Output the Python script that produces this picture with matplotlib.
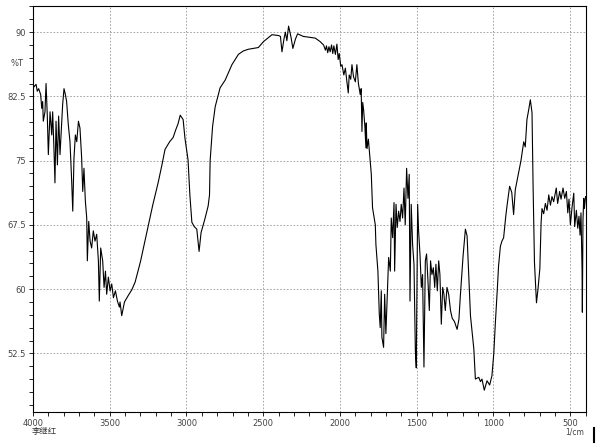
import numpy as np
import matplotlib.pyplot as plt
from matplotlib.ticker import MultipleLocator, FixedLocator
from matplotlib.lines import Line2D

# 波数 (1/cm)
wavenumber = [
    4000, 3994, 3980, 3972, 3963, 3950, 3943, 3937, 3933, 3922, 3915, 3907,
    3900, 3889, 3878, 3872, 3863, 3857, 3850, 3841, 3833, 3824, 3815, 3807,
    3798, 3789, 3781, 3770, 3759, 3748, 3741, 3733, 3724, 3715, 3704, 3694,
    3683, 3676, 3668, 3659, 3650, 3646, 3637, 3628, 3618, 3607, 3596, 3585,
    3574, 3568, 3559, 3546, 3537, 3528, 3520, 3509, 3498, 3487, 3476, 3463,
    3450, 3437, 3433, 3422, 3404, 3378, 3357, 3335, 3300, 3250, 3220, 3185,
    3160, 3140, 3110, 3087, 3070, 3055, 3041, 3030, 3022, 3010, 2990, 2978,
    2965, 2950, 2933, 2918, 2905, 2880, 2859, 2850, 2846, 2830, 2813, 2781,
    2748, 2704, 2662, 2630, 2597, 2532, 2498, 2443, 2400, 2388, 2378, 2365,
    2356, 2346, 2335, 2320, 2307, 2290, 2276, 2239, 2200, 2161, 2130, 2107,
    2095, 2088, 2080, 2072, 2064, 2055, 2047, 2040, 2030, 2020, 2012, 2005,
    1995, 1987, 1975, 1965, 1955, 1946, 1940, 1930, 1922, 1912, 1900, 1890,
    1880, 1868, 1862, 1857, 1852, 1846, 1838, 1831, 1829, 1824, 1815, 1806,
    1796, 1788, 1770, 1766, 1753, 1744, 1738, 1731, 1727, 1716, 1709, 1701,
    1692, 1683, 1672, 1666, 1657, 1648, 1644, 1635, 1627, 1618, 1609, 1601,
    1592, 1583, 1575, 1566, 1557, 1549, 1544, 1536, 1527, 1518, 1509, 1503,
    1494, 1488, 1479, 1470, 1462, 1453, 1444, 1436, 1427, 1418, 1410, 1401,
    1392, 1383, 1375, 1366, 1357, 1349, 1340, 1331, 1323, 1314, 1303, 1292,
    1280, 1269, 1254, 1237, 1225, 1216, 1198, 1183, 1172, 1160, 1150, 1128,
    1118, 1096, 1085, 1075, 1060, 1042, 1025, 1010, 998, 988, 975, 967,
    955, 945, 934, 920, 912, 895, 881, 869, 858, 843, 821, 803,
    793, 782, 770, 760, 749, 742, 733, 720, 710, 698, 690, 684,
    673, 662, 651, 640, 629, 619, 608, 591, 582, 569, 560, 547,
    536, 525, 516, 508, 499, 488, 477, 471, 460, 451, 443, 436,
    430, 423, 421, 417, 412, 408, 400,
]

# 透過率 (%T)
transmittance = [
    84.1, 83.6, 83.9, 83.1, 83.4, 82.7, 81.1, 81.9, 79.6, 80.7, 84.0, 80.3,
    75.7, 80.7, 78.0, 80.7, 76.1, 72.4, 79.6, 74.5, 80.2, 75.7, 78.8, 81.5,
    83.4, 82.7, 81.9, 79.2, 77.2, 72.6, 69.1, 75.3, 78.0, 77.2, 79.6, 78.8,
    75.3, 71.4, 74.1, 70.3, 68.3, 63.3, 67.9, 65.6, 64.8, 66.8, 65.6, 66.4,
    63.3, 58.6, 64.8, 63.3, 60.2, 62.1, 59.4, 61.4, 59.8, 60.6, 59.0, 59.8,
    58.6, 57.9, 58.5, 56.9, 58.5, 59.3, 59.9, 60.8, 63.2, 67.3, 69.8, 72.4,
    74.5, 76.3, 77.2, 77.7, 78.6, 79.3, 80.3, 80.0, 79.8, 77.6, 75.1, 71.0,
    67.8, 67.3, 67.0, 64.4, 66.6, 68.2, 69.7, 71.0, 75.0, 79.0, 81.3, 83.5,
    84.4, 86.2, 87.4, 87.8, 88.0, 88.2, 88.9, 89.7, 89.6, 89.5, 87.7, 89.2,
    90.0, 89.0, 90.7, 89.5, 88.1, 89.2, 89.8, 89.5, 89.4, 89.3, 88.9, 88.5,
    87.9, 88.4, 87.6, 88.3, 87.7, 88.5, 87.5, 88.4, 87.4, 88.6, 86.8, 87.5,
    86.0, 86.2, 85.0, 85.8, 84.2, 82.9, 85.0, 84.5, 86.2, 84.8, 84.2, 86.2,
    84.0, 82.7, 83.4, 78.4, 81.8, 80.9, 79.0, 76.5, 79.4, 76.4, 77.5, 75.5,
    73.4, 69.5, 67.5, 65.2, 62.1, 57.1, 55.5, 59.8, 54.4, 53.2, 59.4, 54.8,
    59.4, 63.7, 62.1, 68.3, 66.0, 70.1, 62.1, 69.9, 67.2, 69.1, 67.9, 69.9,
    68.3, 71.8, 67.5, 74.1, 70.6, 73.4, 58.6, 69.9, 65.2, 62.9, 52.8, 50.8,
    69.9, 66.8, 64.1, 60.2, 61.7, 50.9, 63.3, 64.1, 61.0, 57.5, 63.3, 61.7,
    62.5, 60.2, 62.9, 59.8, 63.3, 61.7, 55.9, 60.2, 59.4, 57.5, 60.2, 59.4,
    57.5, 56.6, 56.2, 55.3, 56.5, 59.2, 63.9, 67.0, 66.2, 61.0, 56.9, 53.0,
    49.5, 49.7, 49.2, 49.5, 48.2, 49.3, 48.8, 49.9, 52.5, 56.0, 60.0, 62.7,
    65.0, 65.6, 66.0, 68.5, 69.7, 72.0, 71.3, 68.7, 71.6, 73.0, 75.0, 77.2,
    76.6, 79.8, 81.0, 82.1, 80.6, 72.0, 63.1, 58.4, 60.0, 62.4, 67.7, 69.4,
    68.8, 70.0, 69.2, 71.0, 69.8, 70.8, 70.2, 71.8, 70.0, 71.4, 70.5, 71.8,
    70.6, 71.4, 68.9, 70.5, 67.5, 69.6, 71.2, 67.3, 69.2, 67.1, 68.5, 66.3,
    68.9, 62.3, 57.3, 68.1, 70.6, 69.4, 70.8,
]

x_ticks = [4000, 3500, 3000, 2500, 2000, 1500, 1000, 500]
y_ticks = [52.5, 60, 67.5, 75, 82.5, 90]
y_tick_labels = ["52.5", "60", "67.5", "75", "82.5", "90"]


def main():
    fig = plt.figure(figsize=(6, 4.44), dpi=100)
    ax = fig.add_axes([0.055, 0.072, 0.922, 0.9145])

    ax.plot(wavenumber, transmittance, color="black", lw=0.8)

    ax.set_xlim(4000, 396)
    ax.set_ylim(45.65, 93.05)

    ax.xaxis.set_major_locator(FixedLocator(x_ticks))
    ax.xaxis.set_minor_locator(MultipleLocator(100))
    ax.yaxis.set_major_locator(FixedLocator(y_ticks))
    ax.yaxis.set_minor_locator(MultipleLocator(1.5))
    ax.set_xticklabels([str(v) for v in x_ticks])
    ax.set_yticklabels(y_tick_labels)

    ax.tick_params(which="both", direction="out", length=3, width=0.6,
                   labelsize=6, labelcolor="#444444", pad=2)
    ax.grid(which="major", linestyle=(0, (2, 2)), color="#999999", lw=0.6)

    for s in ax.spines.values():
        s.set_linewidth(0.8)

    # 軸ラベル
    fig.text(0.028, 1 - 64 / 444, "%T", fontsize=6, color="#444444",
             ha="center", va="center")
    fig.text(575 / 600, 1 - 432 / 444, "1/cm", fontsize=5.5, color="#444444",
             ha="center", va="center")
    fig.text(44 / 600, 1 - 431 / 444, "李继红", fontsize=6, color="#333333",
             ha="center", va="center",
             family=["Noto Sans CJK SC", "DejaVu Sans"])

    # 右下の縦棒
    fig.add_artist(Line2D([594 / 600, 594 / 600], [1 - 428 / 444, 1 - 442 / 444],
                          color="black", lw=1.5, transform=fig.transFigure))

    fig.savefig("out.png", dpi=100)


if __name__ == "__main__":
    main()
